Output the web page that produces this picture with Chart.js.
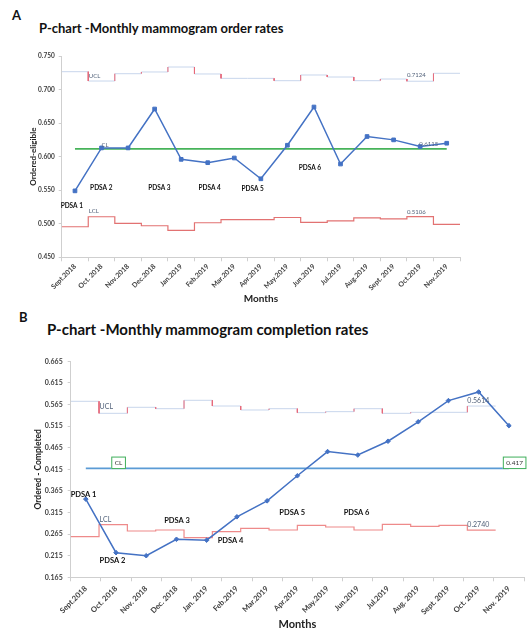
<!DOCTYPE html>
<html>
<head>
<meta charset="utf-8">
<script src="https://cdn.jsdelivr.net/npm/chart.js@4.4.0/dist/chart.umd.min.js"></script>
<style>
  body { margin: 0; background: #fff; overflow: hidden; }
  #page { position: relative; width: 529px; height: 628px; font-family: Lato, "Open Sans", sans-serif; color: #111; }
  .tag, .title { position: absolute; font-weight: 700; line-height: 1; white-space: nowrap; }
  .tag { font-size: 13px; }
  .title { font-size: 13px; }
  .box { position: absolute; left: 0; width: 529px; }
</style>
</head>
<body>
<div id="page">
  <div class="tag" style="left:12px;top:9px">A</div>
  <div class="title" style="left:39px;top:22px">P-chart -Monthly mammogram order rates</div>
  <div class="box" style="top:40px;height:265px"><canvas id="chartA"></canvas></div>
  <div class="tag" style="left:19px;top:311px">B</div>
  <div class="title" style="left:47px;top:322px;font-size:15px">P-chart -Monthly mammogram completion rates</div>
  <div class="box" style="top:340px;height:291px"><canvas id="chartB"></canvas></div>
</div>
<script>
// --- data ---
const monthsA = ['Sept.2018', 'Oct. 2018', 'Nov.2018', 'Dec.2018', 'Jan.2019', 'Feb.2019', 'Mar.2019', 'Apr.2019',
    'May.2019', 'Jun.2019', 'Jul.2019', 'Aug.2019', 'Sept. 2019', 'Oct.2019', 'Nov.2019'];
const monthsB = ['Sept.2018', 'Oct. 2018', 'Nov. 2018', 'Dec. 2018', 'Jan. 2019', 'Feb.2019', 'Mar.2019', 'Apr.2019',
    'May.2019', 'Jun.2019', 'Jul.2019', 'Aug. 2019', 'Sept. 2019', 'Oct. 2019', 'Nov. 2019'];

const orderRate = [0.549, 0.613, 0.613, 0.671, 0.596, 0.591, 0.598, 0.567, 0.617, 0.674, 0.589, 0.630, 0.625, 0.615, 0.620];
const orderUCL = [0.7266, 0.7127, 0.7236, 0.7262, 0.7336, 0.7232, 0.7167, 0.7167, 0.7132, 0.7217, 0.7187, 0.7132, 0.7157, 0.7124, 0.7242];
const orderLCL = [0.4955, 0.5104, 0.5005, 0.4970, 0.4900, 0.5015, 0.5060, 0.5060, 0.5093, 0.5020, 0.5044, 0.5088, 0.5074, 0.5106, 0.4990];
const orderCL = 0.6115;
const orderTicks = [0.450, 0.500, 0.550, 0.600, 0.650, 0.700, 0.750];

const completionRate = [0.346, 0.222, 0.215, 0.253, 0.251, 0.305, 0.342, 0.400, 0.456, 0.448, 0.480, 0.525, 0.574, 0.594, 0.516];
const completionUCL = [0.5724, 0.5446, 0.5585, 0.5553, 0.5747, 0.5615, 0.5523, 0.5553, 0.5461, 0.5484, 0.5553, 0.5446, 0.5469, 0.5469, 0.5614];
const completionLCL = [0.2590, 0.2868, 0.2722, 0.2745, 0.2567, 0.2706, 0.2784, 0.2745, 0.2854, 0.2814, 0.2745, 0.2877, 0.2830, 0.2854, 0.2740];
const completionCL = 0.417;
const completionTicks = [0.165, 0.215, 0.265, 0.315, 0.365, 0.415, 0.465, 0.515, 0.565, 0.615, 0.665];

// --- colours ---
const blue = '#4472c4';
const uclBlue = '#c8d6ec';
const jumpRed = '#e8697a';
const labelGrey = '#52627a';
const tickGrey = '#404040';
const axisGrey = '#cfcfcf';
const family = 'Lato, "Open Sans", sans-serif';
const font = (size, weight = 700) => ({ family, size, weight });

// points sit in the middle of each month
const atCentres = vals => vals.map((v, i) => ({ x: i, y: v }));
// control limits are held across the whole month
const steps = vals => vals.map((v, i) => ({ x: i - 0.5, y: v })).concat([{ x: vals.length - 0.5, y: vals[vals.length - 1] }]);
// only the vertical jumps between months (Excel drew these red)
const jumps = vals => {
    const pts = [];
    for (let i = 1; i < vals.length; i++) {
        pts.push({ x: i - 0.5, y: vals[i - 1] }, { x: i - 0.5, y: vals[i] }, { x: i - 0.5, y: null });
    }
    return pts;
};
const flat = (v, n) => [{ x: 0, y: v }, { x: n - 1, y: v }];

// text notes placed in data space (PDSA cycles, limit labels)
const notes = items => ({
    id: 'notes',
    afterDatasetsDraw(chart) {
        const { ctx, scales } = chart;
        items.forEach(n => {
            const x = scales[n.axis || 'xv'].getPixelForValue(n.x);
            const y = scales.y.getPixelForValue(n.y);
            ctx.save();
            ctx.font = `${n.weight || 400} ${n.size}px ${family}`;
            ctx.textAlign = n.align || 'center';
            ctx.textBaseline = 'middle';
            if (n.box) {
                const w = ctx.measureText(n.text).width + 7;
                const h = n.size + 6;
                ctx.fillStyle = '#fff';
                ctx.fillRect(x - w / 2, y - h / 2, w, h);
                ctx.strokeStyle = n.box;
                ctx.lineWidth = 1;
                ctx.strokeRect(x - w / 2 + 0.5, y - h / 2 + 0.5, w - 1, h - 1);
            }
            ctx.fillStyle = n.color || '#111';
            ctx.fillText(n.text, x, y);
            ctx.restore();
        });
    }
});

const pdsa = (text, x, y, size) => ({ text, x, y, size, weight: 700, color: '#111' });
const limitNote = (text, x, y, size, axis) => ({ text, x, y, size, axis, align: 'left', color: labelGrey });

/*
 * A: order rates
 */
new Chart(document.getElementById('chartA'), {
    type: 'line',
    data: {
        labels: monthsA,
        datasets: [
            { label: 'Ordered-eligible', data: atCentres(orderRate), xAxisID: 'xv', borderColor: blue, backgroundColor: blue,
              borderWidth: 1.5, pointStyle: 'rect', pointRadius: 2.6, pointBorderWidth: 1 },
            { label: 'CL', data: flat(orderCL, orderRate.length), xAxisID: 'xv', borderColor: '#47b35a', borderWidth: 1.8, pointRadius: 0 },
            { label: 'UCL jumps', data: jumps(orderUCL), xAxisID: 'xv', borderColor: jumpRed, borderWidth: 1, pointRadius: 0 },
            { label: 'UCL', data: steps(orderUCL), xAxisID: 'xv', stepped: true, borderColor: uclBlue, borderWidth: 1, pointRadius: 0 },
            { label: 'LCL', data: steps(orderLCL), xAxisID: 'xv', stepped: true, borderColor: '#e27272', borderWidth: 1.2, pointRadius: 0 }
        ]
    },
    options: {
        responsive: true,
        maintainAspectRatio: false,
        animation: false,
        layout: { padding: { top: 16, right: 69, bottom: 0, left: 0 } },
        plugins: { legend: { display: false }, tooltip: { enabled: false } },
        scales: {
            x: {
                type: 'category',
                offset: true,
                grid: { offset: true, drawOnChartArea: false, tickLength: 4, color: axisGrey },
                border: { color: axisGrey },
                ticks: { autoSkip: false, minRotation: 45, maxRotation: 45, padding: 1, color: tickGrey, font: font(7) },
                title: { display: true, text: 'Months', color: '#222', font: font(10), padding: { top: 0, bottom: 0.6 } },
                afterFit: s => { s.height = 47.7; }
            },
            xv: { type: 'linear', display: false, min: -0.5, max: 14.5 },
            y: {
                min: 0.45,
                max: 0.75,
                afterBuildTicks: s => { s.ticks = orderTicks.map(v => ({ value: v })); },
                ticks: { callback: v => v.toFixed(3), padding: 4, color: tickGrey, font: font(6.5) },
                grid: { drawOnChartArea: false, tickLength: 3, color: axisGrey },
                border: { color: axisGrey },
                title: { display: true, text: 'Ordered-eligible', color: '#222', font: font(8), padding: { top: 28.2, bottom: 0 } },
                afterFit: s => { s.width = 61.7; }
            }
        }
    },
    plugins: [notes([
        pdsa('PDSA 1', -0.12, 0.5265, 6.5),
        pdsa('PDSA 2', 0.99, 0.5528, 6.5),
        pdsa('PDSA 3', 3.18, 0.5528, 6.5),
        pdsa('PDSA 4', 5.07, 0.5528, 6.5),
        pdsa('PDSA 5', 6.69, 0.5518, 6.5),
        pdsa('PDSA 6', 8.85, 0.583, 6.5),
        limitNote('UCL', 0.52, 0.7202, 6),
        limitNote('0.7124', 12.5, 0.7212, 6),
        limitNote('LCL', 0.52, 0.5186, 6),
        limitNote('0.5106', 12.5, 0.5175, 6),
        limitNote('CL', 1.0, 0.6175, 6),
        limitNote('0.6115', 12.97, 0.619, 6)
    ])]
});

/*
 * B: completion rates
 */
new Chart(document.getElementById('chartB'), {
    type: 'line',
    data: {
        labels: monthsB,
        datasets: [
            { label: 'Ordered - Completed', data: atCentres(completionRate), xAxisID: 'xv', borderColor: blue, backgroundColor: blue,
              borderWidth: 1.5, pointStyle: 'rectRot', pointRadius: 2.3, pointBorderWidth: 1 },
            { label: 'CL', data: flat(completionCL, completionRate.length), xAxisID: 'xv', borderColor: '#5b9bd5', borderWidth: 1.8, pointRadius: 0 },
            { label: 'UCL jumps', data: jumps(completionUCL), xAxisID: 'xl', borderColor: jumpRed, borderWidth: 1, pointRadius: 0 },
            { label: 'UCL', data: steps(completionUCL), xAxisID: 'xl', stepped: true, borderColor: uclBlue, borderWidth: 1, pointRadius: 0 },
            { label: 'LCL', data: steps(completionLCL), xAxisID: 'xl', stepped: true, borderColor: '#ee8a8a', borderWidth: 1.2, pointRadius: 0 }
        ]
    },
    options: {
        responsive: true,
        maintainAspectRatio: false,
        animation: false,
        layout: { padding: { top: 21.3, right: 0, bottom: 0, left: 0 } },
        plugins: { legend: { display: false }, tooltip: { enabled: false } },
        scales: {
            x: {
                type: 'category',
                offset: true,
                grid: { offset: true, drawOnChartArea: false, tickLength: 4, color: axisGrey },
                border: { color: axisGrey },
                ticks: { autoSkip: false, minRotation: 45, maxRotation: 45, padding: 3, color: tickGrey, font: font(7.6) },
                title: { display: true, text: 'Months', color: '#222', font: font(11), padding: { top: 0, bottom: 0.1 } },
                afterFit: s => { s.height = 53.7; }
            },
            xv: { type: 'linear', display: false, min: -0.5, max: 14.5 },
            // the limit steps in the original are a little narrower than the months
            xl: { type: 'linear', display: false, min: -0.5, max: 15.5 },
            y: {
                min: 0.165,
                max: 0.665,
                afterBuildTicks: s => { s.ticks = completionTicks.map(v => ({ value: v })); },
                ticks: { callback: v => v.toFixed(3), padding: 5, color: tickGrey, font: font(7) },
                grid: { drawOnChartArea: false, tickLength: 3, color: axisGrey },
                border: { color: axisGrey },
                title: { display: true, text: 'Ordered - Completed', color: '#222', font: font(8.5), padding: { top: 32.9, bottom: 0 } },
                afterFit: s => { s.width = 70.7; }
            }
        }
    },
    plugins: [notes([
        pdsa('PDSA 1', -0.075, 0.357, 7.5),
        pdsa('PDSA 2', 0.88, 0.2034, 7.5),
        pdsa('PDSA 3', 3.02, 0.296, 7.5),
        pdsa('PDSA 4', 4.79, 0.249, 7.5),
        pdsa('PDSA 5', 6.83, 0.3155, 7.5),
        pdsa('PDSA 6', 8.96, 0.3155, 7.5),
        limitNote('UCL', 0.52, 0.5592, 7, 'xl'),
        limitNote('0.5614', 13.5, 0.5731, 7, 'xl'),
        limitNote('LCL', 0.52, 0.2976, 7, 'xl'),
        limitNote('0.2740', 13.5, 0.2877, 7, 'xl'),
        { text: 'CL', x: 1.085, y: 0.430, size: 6.5, color: '#333', box: '#3fae5a' },
        { text: '0.417', x: 14.19, y: 0.430, size: 6.5, color: '#333', box: '#3fae5a' }
    ])]
});
</script>
</body>
</html>
